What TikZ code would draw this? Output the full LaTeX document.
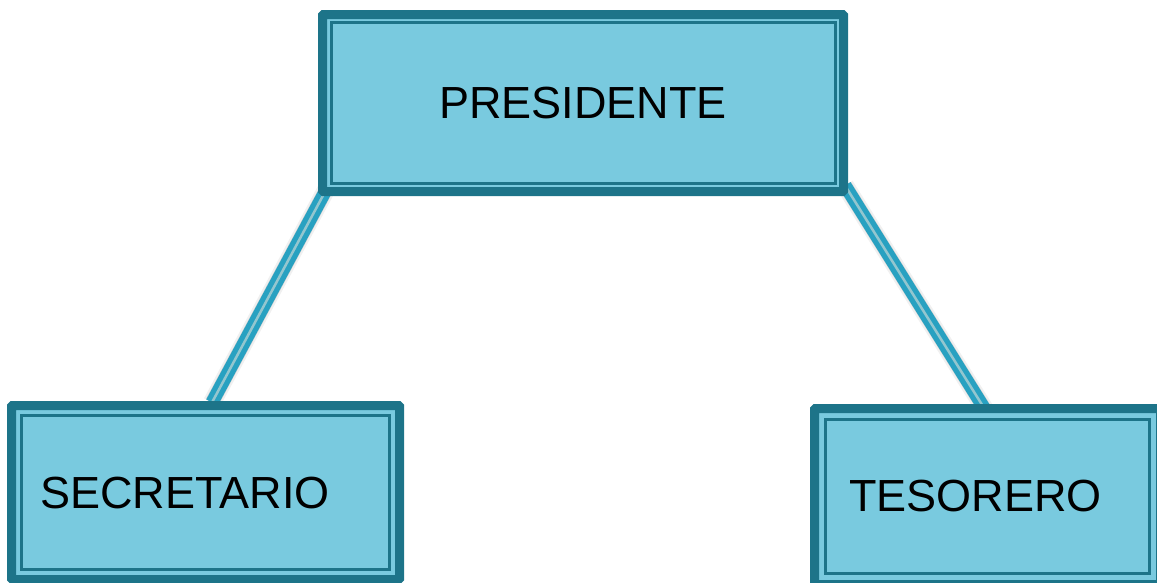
\documentclass[tikz,border=0pt]{standalone}
\usepackage{fontspec}
\setmainfont{Liberation Sans}
\usetikzlibrary{calc}
\definecolor{boxdark}{HTML}{1D7489}
\definecolor{boxfill}{HTML}{79CADF}
\definecolor{linkteal}{HTML}{28A1C1}
\definecolor{linklight}{HTML}{93C6CF}
\pgfdeclarelayer{background}
\pgfsetlayers{background,main}
\tikzset{
  orgbox/.style={rectangle, draw=boxdark, fill=boxfill, line width=9pt,
    inner sep=0pt, outer sep=0pt, rounded corners=1pt},
  innerline/.style={draw=boxdark, line width=3pt},
  lbl/.style={font=\fontsize{45}{54}\selectfont, text=black, inner sep=0pt},
  linkshadow/.style={line width=18pt, black, opacity=0.06},
  linkshadowb/.style={line width=14pt, black, opacity=0.12},
  linkmain/.style={line width=13pt, linkteal},
  linkstripe/.style={line width=2.5pt, linklight},
}
\begin{document}
\begin{tikzpicture}[x=1pt,y=-1pt]
\useasboundingbox (0,0) rectangle (1157,582);
% boxes
\node[orgbox, minimum width=521pt, minimum height=177pt] (P) at (583,103) {};
\node[orgbox, minimum width=388pt, minimum height=174pt] (S) at (205.5,492.5) {};
\node[orgbox, minimum width=346pt, minimum height=176pt] (T) at (987.5,496.5) {};
\draw[innerline] ($(P.north west)+(8.5,8)$) rectangle ($(P.south east)+(-8.5,-8)$);
\draw[innerline] ($(S.north west)+(10,10)$) rectangle ($(S.south east)+(-10,-10)$);
\draw[innerline] ($(T.north west)+(11,11)$) rectangle ($(T.south east)+(-11,-11)$);
% labels
\node[lbl] (Pl) at (583,103) {PRESIDENTE};
\node[lbl] (Sl) at (185,493) {SECRETARIO};
\node[lbl] (Tl) at (975.5,496) {TESORERO};
% connector ends
\coordinate (pl) at ($(P.south west)+(3.5,-1.5)$);
\coordinate (sl) at ($(S.north)+(6.5,-3)$);
\coordinate (pr) at ($(P.south east)+(1.5,-6)$);
\coordinate (tr) at ($(T.north)+(-2.5,1)$);
\begin{pgfonlayer}{background}
  \draw[linkshadow, xshift=5pt, yshift=-3pt] (pl) -- (sl);
  \draw[linkshadowb, xshift=3.5pt, yshift=-2pt] (pl) -- (sl);
  \draw[linkmain] (pl) -- (sl);
  \draw[linkstripe, xshift=3pt] (pl) -- (sl);
  \draw[linkshadow, xshift=-5pt, yshift=-3pt] (pr) -- (tr);
  \draw[linkshadowb, xshift=-3.5pt, yshift=-2pt] (pr) -- (tr);
  \draw[linkmain] (pr) -- (tr);
  \draw[linkstripe, xshift=-3pt] (pr) -- (tr);
\end{pgfonlayer}
\end{tikzpicture}
\end{document}
